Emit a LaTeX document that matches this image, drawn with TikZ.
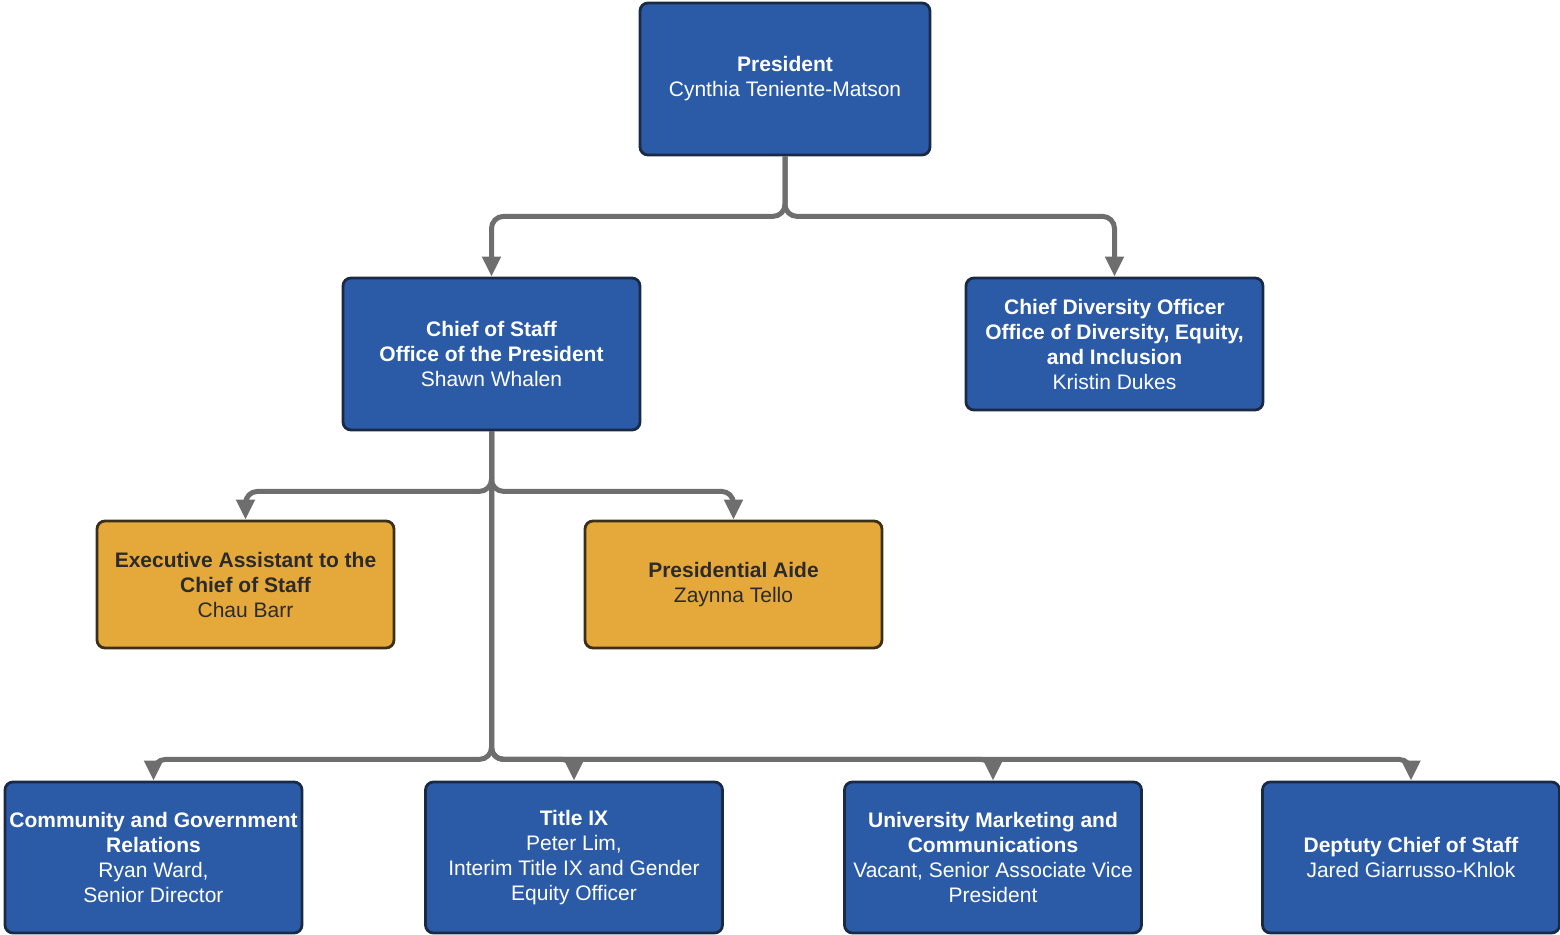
\documentclass[tikz,border=0pt]{standalone}
\usepackage{fontspec}
\setmainfont{Liberation Sans}
\usetikzlibrary{arrows.meta}

\definecolor{boxblue}{HTML}{2B5BA7}
\definecolor{boxline}{HTML}{1B2A44}
\definecolor{boxgold}{HTML}{E5A83A}
\definecolor{goldline}{HTML}{3B2F1A}
\definecolor{goldtext}{HTML}{2B2B2B}
\definecolor{linkgray}{HTML}{6E6E6E}

\tikzset{
  bluebox/.style={draw=boxline, fill=boxblue, text=white, line width=1.4pt,
    rounded corners=4pt, minimum width=148.5pt, align=center, inner sep=1pt,
    font=\fontsize{10.5}{12.5}\selectfont},
  goldbox/.style={bluebox, fill=boxgold, draw=goldline, text=goldtext},
  link/.style={draw=linkgray, line width=2.5pt, rounded corners=6pt,
    -{Triangle[length=10pt,width=9pt]}}
}

\begin{document}
\begin{tikzpicture}[x=0.5pt,y=-0.5pt]
  \useasboundingbox (0,0) rectangle (1560,935);

  % top level
  \node[bluebox, minimum width=145pt, minimum height=76pt] (pres) at (785,79)
    {\textbf{President}\\Cynthia Teniente-Matson};

  % second level
  \node[bluebox, minimum height=76pt] (cos) at (491.5,354)
    {\textbf{Chief of Staff}\\\textbf{Office of the President}\\Shawn Whalen};
  \node[bluebox, minimum height=66pt] (cdo) at (1114.5,344)
    {\textbf{Chief Diversity Officer}\\\textbf{Office of Diversity, Equity,}\\\textbf{and Inclusion}\\Kristin Dukes};

  % staff
  \node[goldbox, minimum height=63.5pt] (ea) at (245.5,584.5)
    {\textbf{Executive Assistant to the}\\\textbf{Chief of Staff}\\Chau Barr};
  \node[goldbox, minimum height=63.5pt] (aide) at (733.5,584.5)
    {\textbf{Presidential Aide}\\Zaynna Tello};

  % bottom row
  \node[bluebox, minimum height=75.5pt] (cgr) at (153.5,857.5)
    {\textbf{Community and Government}\\\textbf{Relations}\\Ryan Ward,\\Senior Director};
  \node[bluebox, minimum height=75.5pt] (tix) at (574,857.5)
    {\textbf{Title IX}\\Peter Lim,\\Interim Title IX and Gender\\Equity Officer};
  \node[bluebox, minimum height=75.5pt] (umc) at (993,857.5)
    {\textbf{University Marketing and}\\\textbf{Communications}\\Vacant, Senior Associate Vice\\President};
  \node[bluebox, minimum height=75.5pt] (dcos) at (1411,857.5)
    {\textbf{Deptuty Chief of Staff}\\Jared Giarrusso-Khlok};

  % connectors
  \draw[link] (pres.south) -- ++(0,60) -| (cos.north);
  \draw[link] (pres.south) -- ++(0,60) -| (cdo.north);
  \draw[link] (cos.south) -- ++(0,60) -| (ea.north);
  \draw[link] (cos.south) -- ++(0,60) -| (aide.north);
  \foreach \n in {cgr,tix,umc,dcos}
    \draw[link] (cos.south) -- ++(0,328) -| (\n.north);
\end{tikzpicture}
\end{document}
